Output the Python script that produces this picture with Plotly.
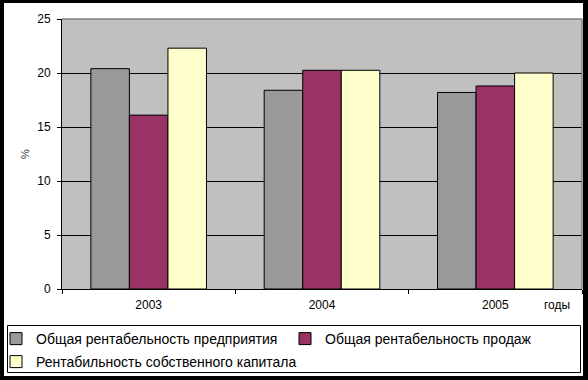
import plotly.graph_objects as go

years = ["2003", "2004", "2005"]
series_names = [
    "Общая рентабельность предприятия",
    "Общая рентабельность продаж",
    "Рентабильность собственного капитала",
]
enterprise = [20.4, 18.4, 18.2]
sales = [16.1, 20.25, 18.8]
equity = [22.3, 20.25, 20.0]
y_ticks = [0, 5, 10, 15, 20, 25]
colors = ["#999999", "#993366", "#FFFFCC"]

W, H = 588, 380
L, R, T, B = 62, 6, 19, 91
PW, PH = W - L - R, H - T - B


def px(x):
    return (x - L) / PW


def py(y):
    return (H - B - y) / PH


legend_ids = ["legend", "legend2", "legend3"]
fig = go.Figure()
for name, vals, col, lg in zip(series_names, [enterprise, sales, equity], colors, legend_ids):
    fig.add_trace(go.Bar(x=years, y=vals, name=name, legend=lg,
                         marker=dict(color=col, line=dict(color="black", width=1))))

font = "Liberation Sans, Arial, sans-serif"
shapes = [
    # white page inside the black frame
    dict(type="rect", xref="paper", yref="paper", x0=px(4), x1=px(583), y0=py(376), y1=py(3),
         fillcolor="white", line=dict(width=0), layer="below"),
    # plot area background
    dict(type="rect", xref="paper", yref="paper", x0=0, x1=1, y0=0, y1=1,
         fillcolor="#C0C0C0", line=dict(width=0), layer="below"),
    dict(type="line", xref="paper", yref="paper", x0=0, x1=1, y0=1, y1=1,
         line=dict(color="#808080", width=1.5)),
    dict(type="line", xref="paper", yref="paper", x0=1, x1=1, y0=0, y1=1,
         line=dict(color="#808080", width=1.5)),
    # legend box
    dict(type="rect", xref="paper", yref="paper", x0=px(7.5), x1=px(580.5), y0=py(372.5), y1=py(325.5),
         fillcolor="rgba(0,0,0,0)", line=dict(color="black", width=1), layer="above"),
]


def leg(x, y):
    return dict(orientation="h", x=px(x), xanchor="left", y=py(y), yanchor="top",
                borderwidth=0, bgcolor="rgba(0,0,0,0)",
                font=dict(size=14, family=font), itemwidth=30)


fig.update_layout(
    width=W, height=H,
    margin=dict(l=L, r=R, t=T, b=B, pad=0, autoexpand=False),
    paper_bgcolor="black", plot_bgcolor="rgba(0,0,0,0)",
    font=dict(family=font, size=12, color="black"),
    barmode="group", bargap=0.333, bargroupgap=0,
    showlegend=True,
    legend=leg(-4, 323),
    legend2=leg(285, 323),
    legend3=leg(-4, 346),
    xaxis=dict(showline=True, linecolor="black", linewidth=1, ticks="outside",
               tickson="boundaries", ticklen=4, tickcolor="black",
               tickfont=dict(size=12), showgrid=False, fixedrange=True,
               ticklabelstandoff=5),
    yaxis=dict(range=[0, 25], tickvals=y_ticks, showline=True, linecolor="black",
               linewidth=1, ticks="outside", ticklen=4, tickcolor="black",
               showgrid=True, gridcolor="black", gridwidth=1, zeroline=False,
               tickfont=dict(size=12), ticklabelstandoff=4, fixedrange=True),
    shapes=shapes,
    annotations=[
        dict(text="годы", xref="paper", yref="paper", x=px(557), y=py(305),
             xanchor="center", yanchor="middle", showarrow=False, font=dict(size=12)),
        dict(text="%", xref="paper", yref="paper", x=px(25), y=0.5, textangle=-90,
             xanchor="center", yanchor="middle",
             showarrow=False, font=dict(size=11, color="#333333")),
    ],
)

fig.write_html("out.html", config={"displayModeBar": False},
               post_script="document.body.style.margin='0';")
